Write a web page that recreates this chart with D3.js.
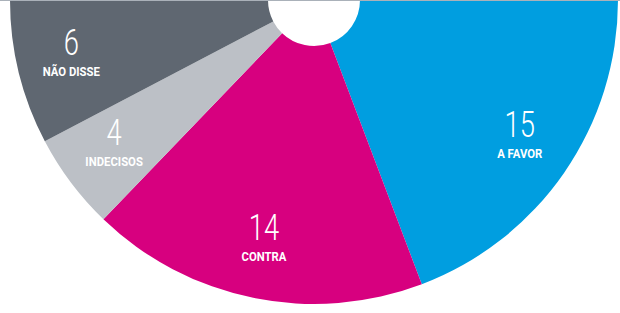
<!DOCTYPE html>
<html>
<head>
<meta charset="utf-8">
<script src="https://cdn.jsdelivr.net/npm/d3@7"></script>
<style>
  body { margin: 0; background: #fff; }
  svg { display: block; }
  .num { font-family: Roboto, "Open Sans", sans-serif; font-weight: 300; fill: #fff; }
  .lbl { font-family: Roboto, "DejaVu Sans Condensed", sans-serif; font-weight: bold; fill: #fff; }
</style>
</head>
<body>
<div id="chart"></div>
<script>
// vote split, right to left around the half donut
const categories = ["A FAVOR", "CONTRA", "INDECISOS", "NÃO DISSE"];
const values = [15, 14, 4, 6];
const colors = ["#009ee0", "#d7007f", "#bcc0c6", "#5f6771"];

const width = 620, height = 313;
const cx = 314, cy = 0;
const outerR = 304, innerR = 46, labelR = 250;

const svg = d3.select("#chart").append("svg")
    .attr("width", width)
    .attr("height", height);

const data = categories.map((c, i) => ({ name: c, value: values[i], color: colors[i] }));

// bottom half only: from 3 o'clock clockwise to 9 o'clock
const pie = d3.pie()
    .value(d => d.value)
    .sort(null)
    .startAngle(Math.PI / 2)
    .endAngle(3 * Math.PI / 2);

const arc = d3.arc().innerRadius(innerR).outerRadius(outerR);
const labelArc = d3.arc().innerRadius(labelR).outerRadius(labelR);

const g = svg.append("g")
    .attr("transform", "translate(" + cx + "," + cy + ")");

const arcs = pie(data);

g.selectAll("path")
    .data(arcs)
    .join("path")
    .attr("d", arc)
    .attr("fill", d => d.data.color);

const labels = g.selectAll("g.label")
    .data(arcs)
    .join("g")
    .attr("class", "label")
    .attr("transform", d => "translate(" + labelArc.centroid(d) + ")");

// condensed look: squeeze the glyphs horizontally
labels.append("text")
    .attr("class", "num")
    .attr("text-anchor", "middle")
    .attr("transform", "scale(0.74,1)")
    .attr("y", -5)
    .attr("font-size", 37)
    .text(d => d.data.value);

labels.append("text")
    .attr("class", "lbl")
    .attr("text-anchor", "middle")
    .attr("transform", "scale(0.84,1)")
    .attr("y", 16)
    .attr("font-size", 13.5)
    .text(d => d.data.name);

// thin rule along the top edge
svg.append("line")
    .attr("x1", 0).attr("x2", width)
    .attr("y1", 0.5).attr("y2", 0.5)
    .attr("stroke", "#aab1b9")
    .attr("stroke-width", 1);
</script>
</body>
</html>
